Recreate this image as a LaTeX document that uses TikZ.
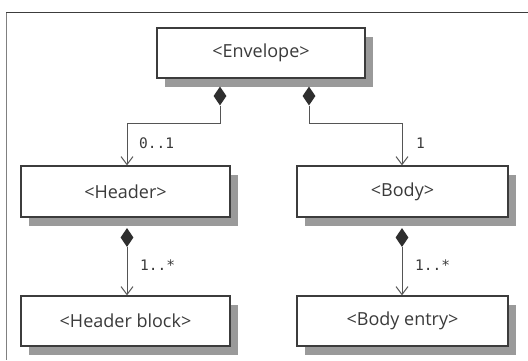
\documentclass[tikz,border=0pt]{standalone}
\usepackage{fontspec}
\setmainfont{Open Sans}
\newfontfamily\labelfont{DejaVu Sans Mono}
\usetikzlibrary{shapes.geometric,shadows,arrows.meta}
\definecolor{boxline}{HTML}{3C3C3C}
\definecolor{shadowgray}{HTML}{9A9A9A}
\definecolor{txt}{HTML}{3A3A3A}
\definecolor{connline}{HTML}{555555}
\definecolor{diam}{HTML}{2E2E2E}
\tikzset{
  classbox/.style={draw=boxline, line width=1.2pt, fill=white, rectangle,
    text=txt, font=\fontsize{18}{20}\selectfont, inner sep=0pt,
    drop shadow={shadow xshift=8pt, shadow yshift=-9pt, fill=shadowgray, opacity=1}},
  comp/.style={diamond, fill=diam, draw=none, inner sep=0pt, minimum width=13pt, minimum height=19pt},
  conn/.style={draw=connline, line width=1pt, -{Straight Barb[length=8pt,width=12pt,line width=1pt]}},
  mult/.style={text=txt, font=\labelfont\fontsize{14.5}{16}\selectfont, inner sep=0pt},
}
\begin{document}
\begin{tikzpicture}[x=1pt,y=-1pt]
\useasboundingbox (0,0) rectangle (528,360);
\fill[white] (0,0) rectangle (528,360);
% frame
\draw[draw=boxline, line width=1.4pt] (528,12.5) -- (6,12.5);
\draw[draw=gray, line width=0.8pt] (6,12.5) -- (6,360);
% boxes
\node[classbox, minimum width=208pt, minimum height=50pt] (env) at (261,53) {<Envelope>};
\node[classbox, minimum width=209pt, minimum height=51pt] (hdr) at (125.5,191.5) {<Header>};
\node[classbox, minimum width=211pt, minimum height=51pt] (body) at (402.5,191.5) {<Body>};
\node[classbox, minimum width=209pt, minimum height=50pt] (hblk) at (125.5,321) {<Header block>};
\node[classbox, minimum width=211pt, minimum height=50pt] (bent) at (402.5,321) {<Body entry>};
% diamonds
\node[comp] (d1) at (220,96) {};
\node[comp] (d2) at (309,96) {};
\node[comp] (d3) at (127,237.5) {};
\node[comp] (d4) at (402,237.5) {};
% junctions
\coordinate (j1) at (127,123);
\coordinate (j2) at (402,123);
% connectors
\draw[conn] (d1.south) |- (j1) -- (j1 |- hdr.north);
\draw[conn] (d2.south) |- (j2) -- (j2 |- body.north);
\draw[conn] (d3.south) -- (d3.south |- hblk.north);
\draw[conn] (d4.south) -- (d4.south |- bent.north);
% multiplicities
\node[mult, anchor=west] (m1) at (139,143) {0..1};
\node[mult, anchor=west] (m2) at (416,143) {1};
\node[mult, anchor=west] (m3) at (140,265) {1..*};
\node[mult, anchor=west] (m4) at (415,265) {1..*};
\end{tikzpicture}
\end{document}
